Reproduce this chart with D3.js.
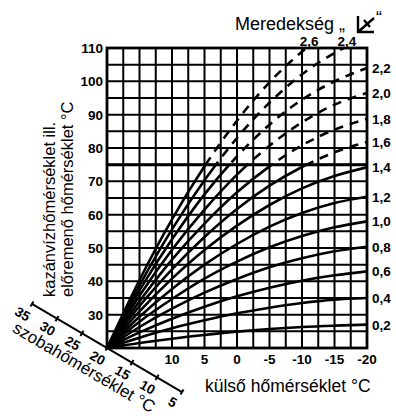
<!DOCTYPE html>
<html>
<head>
<meta charset="utf-8">
<script src="https://cdn.jsdelivr.net/npm/d3@7"></script>
<style>
  body { margin: 0; background: #fff; }
  text { font-family: "Liberation Sans", Arial, sans-serif; fill: #000; }
  .tick-lbl { font-weight: bold; font-size: 13.5px; }
  .title { font-size: 17px; }
</style>
</head>
<body>
<div id="chart"></div>
<script>
var svgWidth = 396;
var svgHeight = 418;

// outdoor temperatures where the curves were read
var outdoorTemps = [20, 15, 10, 5, 0, -5, -10, -15, -20];
var slopes = [0.2, 0.4, 0.6, 0.8, 1.0, 1.2, 1.4, 1.6, 1.8, 2.0, 2.2, 2.4, 2.6];

// flow temperature for each slope
var flow02 = [20, 21.5, 22.8, 23.9, 24.9, 25.7, 26.3, 26.7, 27];
var flow04 = [20, 23.1, 25.9, 28.3, 30.4, 32.1, 33.5, 34.5, 35];
var flow06 = [20, 24.7, 28.8, 32.4, 35.5, 38.1, 40.2, 41.8, 43];
var flow08 = [20, 26.3, 31.8, 36.6, 40.7, 44.2, 46.9, 49, 50.4];
var flow10 = [20, 27.9, 34.7, 40.8, 45.9, 50.2, 53.6, 56.2, 58];
var flow12 = [20, 29.4, 37.7, 45, 51.2, 56.4, 60.5, 63.5, 65.4];
var flow14 = [20, 31, 40.8, 49.4, 56.7, 62.9, 67.9, 71.6, 74.2];
var flow16 = [20, 32.6, 43.6, 53.3, 61.7, 68.7, 74.3, 78.7, 81.8];
var flow18 = [20, 34, 46.5, 57.3, 66.7, 74.5, 80.8, 85.5, 88.7];
var flow20 = [20, 35.7, 49.5, 61.5, 72, 80.7, 87.7, 93, 96.5];
var flow22 = [20, 37.3, 52.6, 66.1, 77.5, 87, 94.5, 100, 104];
var flow24 = [20, 38.8, 55.6, 70.3, 83, 93.6, 102.1, 108.5, 113];
var flow26 = [20, 40.4, 58.6, 74.5, 88.2, 99.7, 108.9, 116, 121];
var flows = [flow02, flow04, flow06, flow08, flow10, flow12, flow14,
             flow16, flow18, flow20, flow22, flow24, flow26];

// slopes that leave the chart at the top, and where their labels sit
var topSlopes = [2.6, 2.4];
var topLabelTemps = [-11.1, -16.9];

var xTicks = [10, 5, 0, -5, -10, -15, -20];
var yTicks = [30, 40, 50, 60, 70, 80, 90, 100, 110];
var roomTicks = [35, 30, 25, 20, 15, 10, 5];
var dashLimit = 75;

var hu = d3.formatLocale({decimal: ",", thousands: " ", grouping: [3], currency: ["", " Ft"], minus: "-"});
var fmtSlope = hu.format(".1f");
var fmtInt = hu.format("d");

var svg = d3.select("#chart")
  .append("svg")
  .attr("width", svgWidth)
  .attr("height", svgHeight);

// scales
var xScale = d3.scaleLinear().domain([20, -20]).range([107, 367]);
var yScale = d3.scaleLinear().domain([20, 110]).range([348, 48]);

// clip regions: solid below 75, dashed above
var defs = svg.append("defs");
defs.append("clipPath").attr("id", "below")
  .append("rect")
  .attr("x", xScale(20)).attr("y", yScale(dashLimit))
  .attr("width", xScale(-20) - xScale(20))
  .attr("height", yScale(20) - yScale(dashLimit));
defs.append("clipPath").attr("id", "above")
  .append("rect")
  .attr("x", xScale(20)).attr("y", yScale(110))
  .attr("width", xScale(-20) - xScale(20))
  .attr("height", yScale(dashLimit) - yScale(110));

// grid
var grid = svg.append("g");
grid.selectAll("line.v")
  .data(d3.range(20, -20.1, -2.5))
  .enter().append("line")
  .attr("x1", function(d) { return xScale(d); })
  .attr("x2", function(d) { return xScale(d); })
  .attr("y1", yScale(20)).attr("y2", yScale(110))
  .attr("stroke", "#000").attr("stroke-width", 2);
grid.selectAll("line.h")
  .data(d3.range(20, 110.1, 5))
  .enter().append("line")
  .attr("x1", xScale(20)).attr("x2", xScale(-20))
  .attr("y1", function(d) { return yScale(d); })
  .attr("y2", function(d) { return yScale(d); })
  .attr("stroke", "#000").attr("stroke-width", 2);
grid.append("rect")
  .attr("x", xScale(20)).attr("y", yScale(110))
  .attr("width", xScale(-20) - xScale(20))
  .attr("height", yScale(20) - yScale(110))
  .attr("fill", "none").attr("stroke", "#000").attr("stroke-width", 2.8);
grid.append("line")
  .attr("x1", xScale(20)).attr("x2", xScale(-20))
  .attr("y1", yScale(dashLimit)).attr("y2", yScale(dashLimit))
  .attr("stroke", "#000").attr("stroke-width", 3);

// curves
var line = d3.line()
  .x(function(d, i) { return xScale(outdoorTemps[i]); })
  .y(function(d) { return yScale(d); })
  .curve(d3.curveMonotoneX);

svg.append("g").selectAll("path")
  .data(flows)
  .enter().append("path")
  .attr("d", line)
  .attr("clip-path", "url(#below)")
  .attr("fill", "none").attr("stroke", "#000").attr("stroke-width", 2.6);

svg.append("g").selectAll("path")
  .data(flows)
  .enter().append("path")
  .attr("d", line)
  .attr("clip-path", "url(#above)")
  .attr("fill", "none").attr("stroke", "#000").attr("stroke-width", 2.6)
  .attr("stroke-dasharray", "9,7");

// y tick labels
svg.append("g").selectAll("text")
  .data(yTicks)
  .enter().append("text")
  .attr("class", "tick-lbl")
  .attr("x", 103)
  .attr("y", function(d) { return yScale(d) + 5; })
  .attr("text-anchor", "end")
  .text(fmtInt);

// x tick labels
svg.append("g").selectAll("text")
  .data(xTicks)
  .enter().append("text")
  .attr("class", "tick-lbl")
  .attr("x", function(d) { return xScale(d); })
  .attr("y", 364)
  .attr("text-anchor", "middle")
  .text(fmtInt);

// slope labels on the right
var rightSlopes = slopes.filter(function(s, i) { return flows[i][flows[i].length - 1] <= 110; });
svg.append("g").selectAll("text")
  .data(rightSlopes)
  .enter().append("text")
  .attr("class", "tick-lbl")
  .attr("x", 372)
  .attr("y", function(s) {
    var f = flows[slopes.indexOf(s)];
    return yScale(f[f.length - 1]) + 5;
  })
  .text(fmtSlope);

// slope labels on top
svg.append("g").selectAll("text")
  .data(topSlopes)
  .enter().append("text")
  .attr("class", "tick-lbl")
  .attr("x", function(s, i) { return xScale(topLabelTemps[i]); })
  .attr("y", 46)
  .attr("text-anchor", "middle")
  .text(fmtSlope);

// room temperature axis (slanted)
var angle = 30.4;
var roomScale = d3.scaleLinear().domain([35, 5]).range([-87, 87]);
var room = svg.append("g")
  .attr("transform", "translate(" + xScale(20) + "," + yScale(20) + ") rotate(" + angle + ")");
room.append("line")
  .attr("x1", roomScale(35)).attr("x2", roomScale(5))
  .attr("y1", 0).attr("y2", 0)
  .attr("stroke", "#000").attr("stroke-width", 2);
room.selectAll("line.t")
  .data(roomTicks)
  .enter().append("line")
  .attr("x1", function(d) { return roomScale(d); })
  .attr("x2", function(d) { return roomScale(d); })
  .attr("y1", -3).attr("y2", 3)
  .attr("stroke", "#000").attr("stroke-width", 2);
room.selectAll("text.t")
  .data(roomTicks)
  .enter().append("text")
  .attr("class", "tick-lbl")
  .attr("x", function(d) { return roomScale(d) - 3; })
  .attr("y", 18)
  .attr("text-anchor", "middle")
  .text(fmtInt);
room.append("text")
  .attr("class", "title")
  .attr("x", -10).attr("y", 34)
  .attr("text-anchor", "middle")
  .style("font-size", "17px")
  .text("szobahőmérséklet °C");

// axis titles
svg.append("text")
  .attr("class", "title")
  .attr("x", 205).attr("y", 392)
  .style("font-size", "17.5px")
  .text("külső hőmérséklet °C");

svg.append("text")
  .attr("class", "title")
  .attr("transform", "translate(55,297) rotate(-90)")
  .style("font-size", "16.5px")
  .text("kazánvízhőmérséklet ill.");
svg.append("text")
  .attr("class", "title")
  .attr("transform", "translate(73,297) rotate(-90)")
  .style("font-size", "16.5px")
  .text("előremenő hőmérséklet °C");

// title with slope symbol
svg.append("text")
  .attr("class", "title")
  .attr("x", 235).attr("y", 30)
  .style("font-size", "18px")
  .text("Meredekség „");
var icon = svg.append("g").attr("transform", "translate(358,32)");
icon.append("path")
  .attr("d", "M0,-16 L0,0 L16,0 M0,0 L16,-14 M6,-12 L12,-5")
  .attr("fill", "none").attr("stroke", "#000").attr("stroke-width", 2.4);
svg.append("text")
  .attr("class", "title")
  .attr("x", 376).attr("y", 24)
  .style("font-size", "18px")
  .text("“");
</script>
</body>
</html>
